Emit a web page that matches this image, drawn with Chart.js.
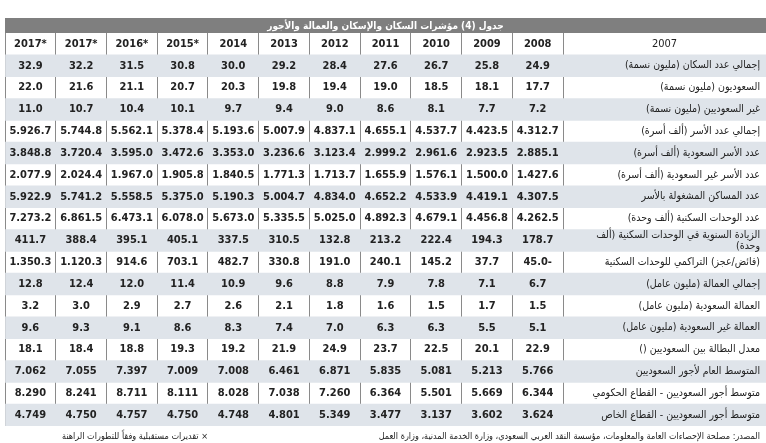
<!DOCTYPE html>
<html lang="ar">
<head>
    <meta charset="UTF-8">
    <title>جدول (4)</title>
    <style>
        body { margin: 0; background: #fff; }
        .chart-container { width: 766px; height: 443px; }
    </style>
    <script src="https://cdn.jsdelivr.net/npm/chart.js"></script>
</head>
<body>
    <div class="chart-container"><canvas id="tableChart"></canvas></div>
    <script>
        const title = 'جدول (4) مؤشرات السكان والإسكان والعمالة والأجور';
        const years = ['2017*', '2017*', '2016*', '2015*', '2014', '2013', '2012', '2011', '2010', '2009', '2008'];
        const cornerLabel = '2007';
        const rowLabels = [
            ['إجمالي عدد السكان (مليون نسمة)'],
            ['السعوديون (مليون نسمة)'],
            ['غير السعوديين (مليون نسمة)'],
            ['إجمالي عدد الأسر (ألف أسرة)'],
            ['عدد الأسر السعودية (ألف أسرة)'],
            ['عدد الأسر غير السعودية (ألف أسرة)'],
            ['عدد المساكن المشغولة بالأسر'],
            ['عدد الوحدات السكنية (ألف وحدة)'],
            ['الزيادة السنوية في الوحدات السكنية (ألف', 'وحدة)'],
            ['(فائض/عجز) التراكمي للوحدات السكنية'],
            ['إجمالي العمالة (مليون عامل)'],
            ['العمالة السعودية (مليون عامل)'],
            ['العمالة غير السعودية (مليون عامل)'],
            ['معدل البطالة بين السعوديين ()'],
            ['المتوسط العام لأجور السعوديين'],
            ['متوسط أجور السعوديين - القطاع الحكومي'],
            ['متوسط أجور السعوديين - القطاع الخاص']
        ];
        // values per row, columns in the same order as years
        const population = ['32.9', '32.2', '31.5', '30.8', '30.0', '29.2', '28.4', '27.6', '26.7', '25.8', '24.9'];
        const saudis = ['22.0', '21.6', '21.1', '20.7', '20.3', '19.8', '19.4', '19.0', '18.5', '18.1', '17.7'];
        const nonSaudis = ['11.0', '10.7', '10.4', '10.1', '9.7', '9.4', '9.0', '8.6', '8.1', '7.7', '7.2'];
        const households = ['5.926.7', '5.744.8', '5.562.1', '5.378.4', '5.193.6', '5.007.9', '4.837.1', '4.655.1', '4.537.7', '4.423.5', '4.312.7'];
        const saudiHouseholds = ['3.848.8', '3.720.4', '3.595.0', '3.472.6', '3.353.0', '3.236.6', '3.123.4', '2.999.2', '2.961.6', '2.923.5', '2.885.1'];
        const nonSaudiHouseholds = ['2.077.9', '2.024.4', '1.967.0', '1.905.8', '1.840.5', '1.771.3', '1.713.7', '1.655.9', '1.576.1', '1.500.0', '1.427.6'];
        const occupiedDwellings = ['5.922.9', '5.741.2', '5.558.5', '5.375.0', '5.190.3', '5.004.7', '4.834.0', '4.652.2', '4.533.9', '4.419.1', '4.307.5'];
        const housingUnits = ['7.273.2', '6.861.5', '6.473.1', '6.078.0', '5.673.0', '5.335.5', '5.025.0', '4.892.3', '4.679.1', '4.456.8', '4.262.5'];
        const annualIncrease = ['411.7', '388.4', '395.1', '405.1', '337.5', '310.5', '132.8', '213.2', '222.4', '194.3', '178.7'];
        const surplus = ['1.350.3', '1.120.3', '914.6', '703.1', '482.7', '330.8', '191.0', '240.1', '145.2', '37.7', '45.0-'];
        const totalLabour = ['12.8', '12.4', '12.0', '11.4', '10.9', '9.6', '8.8', '7.9', '7.8', '7.1', '6.7'];
        const saudiLabour = ['3.2', '3.0', '2.9', '2.7', '2.6', '2.1', '1.8', '1.6', '1.5', '1.7', '1.5'];
        const nonSaudiLabour = ['9.6', '9.3', '9.1', '8.6', '8.3', '7.4', '7.0', '6.3', '6.3', '5.5', '5.1'];
        const unemployment = ['18.1', '18.4', '18.8', '19.3', '19.2', '21.9', '24.9', '23.7', '22.5', '20.1', '22.9'];
        const avgWage = ['7.062', '7.055', '7.397', '7.009', '7.008', '6.461', '6.871', '5.835', '5.081', '5.213', '5.766'];
        const govWage = ['8.290', '8.241', '8.711', '8.111', '8.028', '7.038', '7.260', '6.364', '5.501', '5.669', '6.344'];
        const privateWage = ['4.749', '4.750', '4.757', '4.750', '4.748', '4.801', '5.349', '3.477', '3.137', '3.602', '3.624'];
        const rows = [population, saudis, nonSaudis, households, saudiHouseholds, nonSaudiHouseholds,
            occupiedDwellings, housingUnits, annualIncrease, surplus, totalLabour, saudiLabour,
            nonSaudiLabour, unemployment, avgWage, govWage, privateWage];
        const sourceNote = 'المصدر: مصلحة الإحصاءات العامة والمعلومات، مؤسسة النقد العربي السعودي، وزارة الخدمة المدنية، وزارة العمل';
        const estimateNote = '× تقديرات مستقبلية وفقاً للتطورات الراهنة';

        const numCols = years.length;
        const xMax = 15; // value columns 0..11, label column 11..15
        const categories = ['header'].concat(rowLabels.map((r, i) => 'r' + i));
        const shading = categories.map((c, i) => (i % 2 === 1 ? [0, xMax] : null));

        const tableText = {
            id: 'tableText',
            beforeDraw(chart) {
                const ctx = chart.ctx;
                const area = chart.chartArea;
                ctx.save();
                ctx.fillStyle = '#7f7f7f';
                ctx.fillRect(area.left, 18, area.right - area.left, area.top - 18);
                ctx.fillStyle = '#fff';
                ctx.font = 'bold 10px "DejaVu Sans Condensed", "DejaVu Sans"';
                ctx.direction = 'rtl';
                ctx.textAlign = 'center';
                ctx.textBaseline = 'middle';
                ctx.fillText(title, (area.left + area.right) / 2, (18 + area.top) / 2 + 1);
                ctx.restore();
            },
            afterDraw(chart) {
                const ctx = chart.ctx;
                const x = chart.scales.x;
                const y = chart.scales.y;
                const area = chart.chartArea;
                ctx.save();
                ctx.fillStyle = '#222';
                ctx.textBaseline = 'middle';
                ctx.font = 'bold 11px "DejaVu Sans Condensed", "DejaVu Sans"';
                ctx.textAlign = 'center';
                years.forEach((yr, c) => ctx.fillText(yr, x.getPixelForValue(c + 0.5), y.getPixelForValue(0)));
                ctx.font = '11px "DejaVu Sans Condensed", "DejaVu Sans"';
                ctx.fillText(cornerLabel, x.getPixelForValue(13), y.getPixelForValue(0));
                rows.forEach((vals, r) => {
                    const py = y.getPixelForValue(r + 1);
                    ctx.font = 'bold 11px "DejaVu Sans Condensed", "DejaVu Sans"';
                    ctx.textAlign = 'center';
                    ctx.direction = 'ltr';
                    vals.forEach((v, c) => ctx.fillText(v, x.getPixelForValue(c + 0.5), py));
                    ctx.font = '10.5px "DejaVu Sans Condensed", "DejaVu Sans"';
                    ctx.direction = 'rtl';
                    ctx.textAlign = 'right';
                    const lines = rowLabels[r];
                    lines.forEach((t, k) => ctx.fillText(t, area.right - 6, py + (k - (lines.length - 1) / 2) * 11));
                });
                ctx.font = '9px "DejaVu Sans Condensed", "DejaVu Sans"';
                ctx.direction = 'rtl';
                ctx.textAlign = 'right';
                ctx.fillText(sourceNote, area.right - 6, 437);
                ctx.fillText(estimateNote, x.getPixelForValue(4), 437);
                ctx.restore();
            }
        };

        new Chart(document.getElementById('tableChart'), {
            type: 'bar',
            data: {
                labels: categories,
                datasets: [{
                    data: shading,
                    backgroundColor: '#dfe4ea',
                    borderWidth: 0,
                    barPercentage: 1,
                    categoryPercentage: 1
                }]
            },
            options: {
                indexAxis: 'y',
                responsive: true,
                maintainAspectRatio: false,
                animation: false,
                layout: { padding: { left: 5, right: 0, top: 33, bottom: 17 } },
                plugins: { legend: { display: false }, tooltip: { enabled: false } },
                scales: {
                    x: {
                        type: 'linear', min: 0, max: xMax,
                        afterBuildTicks: (s) => { s.ticks = []; for (let i = 0; i <= numCols; i++) s.ticks.push({ value: i }); },
                        ticks: { display: false },
                        grid: { color: '#8a8a8a', lineWidth: 1, drawTicks: false },
                        border: { display: false }
                    },
                    y: {
                        ticks: { display: false },
                        grid: { display: false, drawTicks: false },
                        border: { display: false }
                    }
                }
            },
            plugins: [tableText]
        });
    </script>
</body>
</html>
